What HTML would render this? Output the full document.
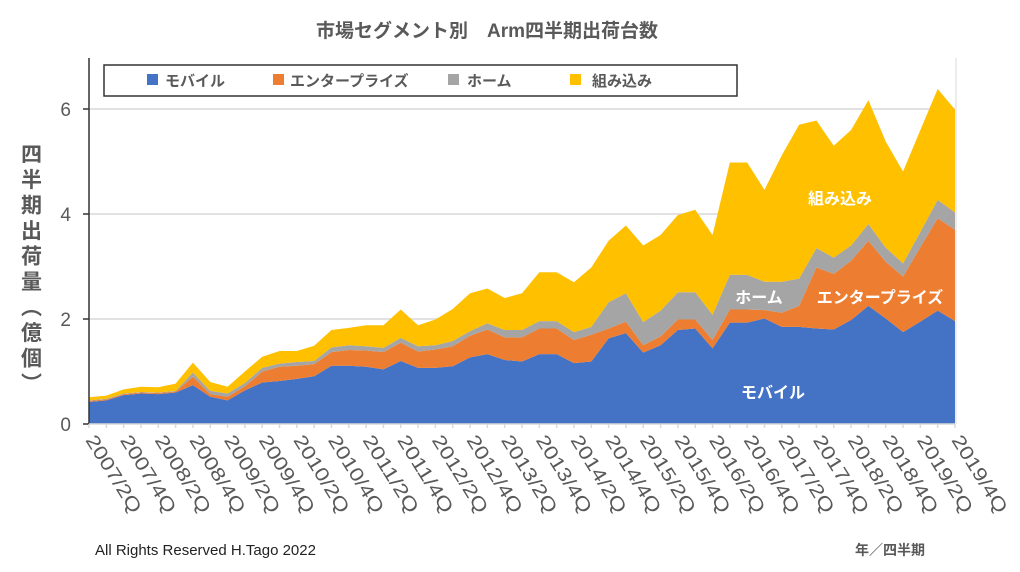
<!DOCTYPE html>
<html><head><meta charset="utf-8">
<style>
body{margin:0;background:#fff;}
svg{display:block;font-family:"Liberation Sans","Noto Sans CJK JP",sans-serif;}
</style></head>
<body>
<svg id="chart" width="1020" height="572" viewBox="0 0 1020 572" xmlns="http://www.w3.org/2000/svg">
<rect width="1020" height="572" fill="#fff"/>
<text x="487" y="37" text-anchor="middle" font-size="19" font-weight="bold" fill="#595959">市場セグメント別　Arm四半期出荷台数</text>
<text x="30" y="143" font-size="21" font-weight="bold" fill="#595959" style="writing-mode:vertical-rl;letter-spacing:4.5px">四半期出荷量（億個）</text>
<g id="grid"></g>
<g id="areas"></g>
<g id="axes"></g>
<g id="xlabels"></g>
<g>
<rect x="104" y="65" width="633" height="31" fill="#fff" stroke="#333" stroke-width="1.5"/>
<rect x="147" y="74" width="11" height="11" fill="#4472C4"/>
<text x="165" y="86" font-size="15" font-weight="bold" fill="#595959">モバイル</text>
<rect x="273" y="74" width="11" height="11" fill="#ED7D31"/>
<text x="290" y="86" font-size="15" font-weight="bold" fill="#595959">エンタープライズ</text>
<rect x="448" y="74" width="11" height="11" fill="#A5A5A5"/>
<text x="467" y="86" font-size="15" font-weight="bold" fill="#595959">ホーム</text>
<rect x="570" y="74" width="11" height="11" fill="#FFC000"/>
<text x="592" y="86" font-size="15" font-weight="bold" fill="#595959">組み込み</text>
</g>
<g font-size="16" font-weight="bold" fill="#fff" text-anchor="middle">
<text x="840" y="204">組み込み</text>
<text x="759" y="303">ホーム</text>
<text x="880" y="303">エンタープライズ</text>
<text x="773" y="398">モバイル</text>
</g>
<text x="95" y="555" font-size="15" fill="#222">All Rights Reserved H.Tago 2022</text>
<text x="855" y="555" font-size="14" font-weight="bold" fill="#595959">年／四半期</text>
</svg>
<script>
const mobile=[.42,.45,.55,.58,.57,.60,.74,.52,.45,.64,.79,.82,.86,.91,1.11,1.11,1.09,1.04,1.20,1.07,1.07,1.10,1.27,1.33,1.22,1.19,1.33,1.33,1.16,1.19,1.63,1.73,1.36,1.50,1.79,1.82,1.44,1.93,1.93,2.01,1.85,1.85,1.82,1.80,1.98,2.25,2.01,1.75,1.95,2.16,1.96];
const enterprise=[.02,.02,.02,.02,.02,.02,.16,.05,.07,.08,.21,.27,.25,.23,.26,.30,.31,.33,.35,.31,.35,.38,.41,.47,.43,.46,.49,.49,.44,.51,.19,.22,.14,.17,.20,.17,.16,.25,.25,.16,.27,.40,1.16,1.06,1.13,1.24,1.08,1.06,1.42,1.76,1.74];
const home=[.01,.01,.01,.01,.01,.01,.08,.06,.06,.06,.07,.06,.07,.06,.09,.09,.08,.08,.09,.10,.08,.10,.09,.12,.14,.14,.14,.14,.15,.15,.50,.54,.44,.49,.52,.52,.48,.66,.66,.54,.59,.52,.37,.31,.29,.32,.27,.25,.29,.35,.33];
const embedded=[.06,.06,.08,.10,.10,.14,.19,.17,.13,.22,.21,.24,.21,.29,.33,.33,.40,.43,.54,.40,.49,.61,.72,.66,.61,.70,.93,.93,.95,1.13,1.17,1.29,1.46,1.44,1.47,1.57,1.52,2.14,2.14,1.75,2.41,2.93,2.43,2.13,2.20,2.36,2.02,1.75,1.94,2.11,1.96];
const yTicks=[0,2,4,6];
const startYear=2007, startQ=2;
const NS="http://www.w3.org/2000/svg";
const X0=89,X1=955,Y0=424,PX=52.5;
const n=mobile.length;
const x=i=>X0+(X1-X0)*i/(n-1);
const y=v=>Y0-v*PX;
function mk(tag,attrs,parent){const e=document.createElementNS(NS,tag);for(const k in attrs)e.setAttribute(k,attrs[k]);parent.appendChild(e);return e;}
const grid=document.getElementById('grid'),areas=document.getElementById('areas'),axes=document.getElementById('axes'),xl=document.getElementById('xlabels');
yTicks.forEach(t=>{
  if(t>0){const g=mk('line',{x1:X0,x2:X1,y1:y(t),y2:y(t),stroke:'#d9d9d9','stroke-width':1.5},grid);
  
  }
  const tk=mk('line',{x1:X0-6,x2:X0,y1:y(t),y2:y(t),stroke:'#333','stroke-width':1.5},axes);
  
  
  const lb=mk('text',{x:X0-18,y:y(t)+7,'text-anchor':'end','font-size':19,fill:'#595959'},axes);
  lb.textContent=t;
  
  
});
const series=[[mobile,'#4472C4','mobile'],[enterprise,'#ED7D31','enterprise'],[home,'#A5A5A5','home'],[embedded,'#FFC000','embedded']];
let base=new Array(n).fill(0);
series.forEach(([arr,col,name])=>{
  const top=base.map((b,i)=>b+arr[i]);
  let d='M'+x(0)+','+y(top[0]);
  for(let i=1;i<n;i++)d+='L'+x(i)+','+y(top[i]);
  for(let i=n-1;i>=0;i--)d+='L'+x(i)+','+y(base[i]);
  d+='Z';
  const p=mk('path',{d:d,fill:col},areas);
  
  
  base=top;
});
const ax=mk('line',{x1:X0,x2:X0,y1:58,y2:Y0,stroke:'#333','stroke-width':1.5},axes);


const bx=mk('line',{x1:X0,x2:X1,y1:Y0,y2:Y0,stroke:'#d9d9d9','stroke-width':1.5},axes);


const rx=mk('line',{x1:X1+1,x2:X1+1,y1:58,y2:Y0,stroke:'#d9d9d9','stroke-width':1},axes);


for(let i=0;i<n;i++){
  const t=mk('line',{x1:x(i),x2:x(i),y1:Y0,y2:Y0+4,stroke:'#d9d9d9','stroke-width':1.5},axes);
  
  
  if(i%2===0){
    const q=startQ-1+i, yr=startYear+Math.floor(q/4), qq=q%4+1;
    const tx=x(i)-4, ty=440;
    const lb=mk('text',{x:tx,y:ty,'font-size':19,fill:'#595959',transform:'rotate(58 '+tx+' '+ty+')',textLength:88,lengthAdjust:'spacingAndGlyphs'},xl);
    lb.textContent=yr+'/'+qq+'Q';
    
    
  }
}
</script>
</body></html>
